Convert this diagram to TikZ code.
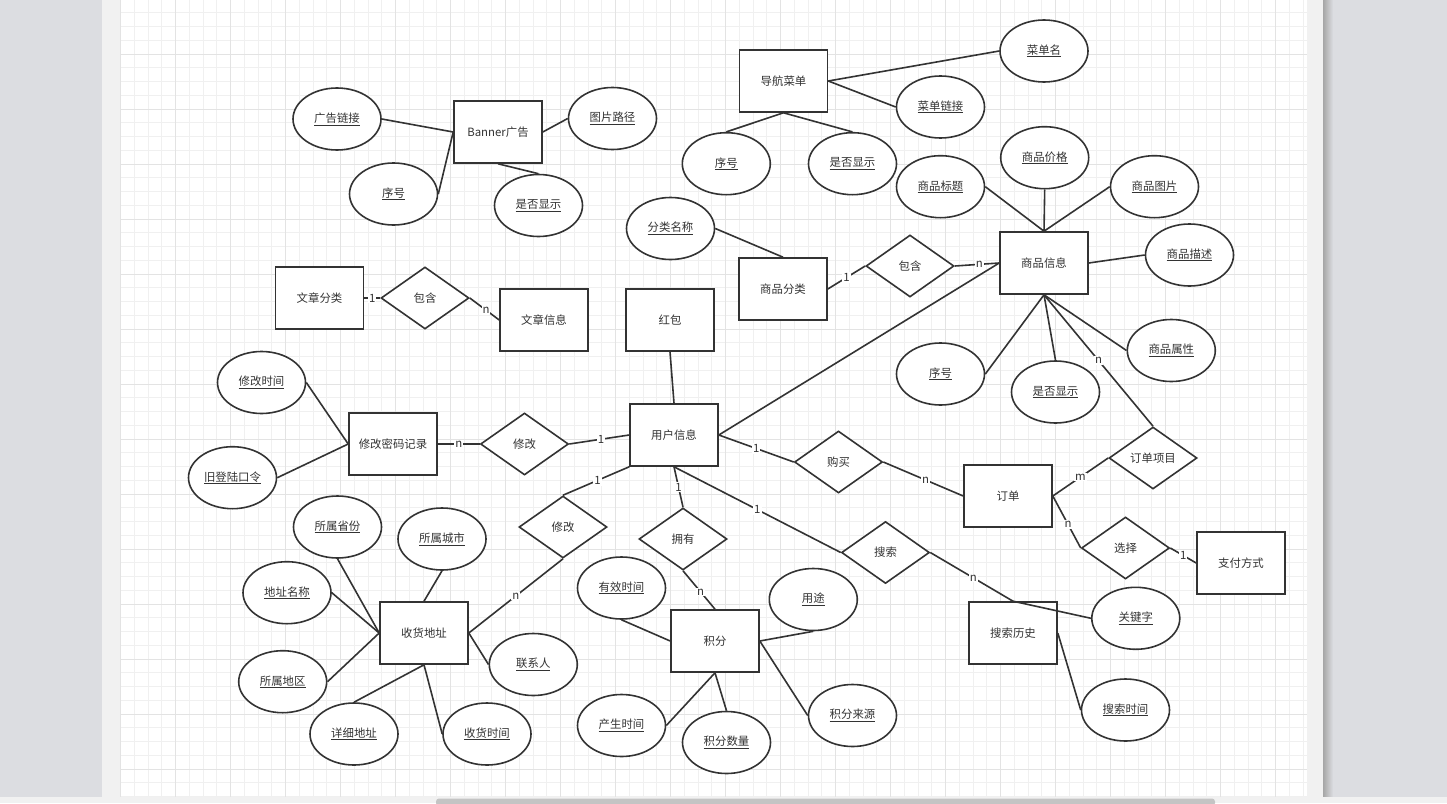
\documentclass[tikz,border=0pt]{standalone}
\usepackage{fontspec}
\newfontfamily\cjk{Noto Sans CJK SC}
\usetikzlibrary{shapes.geometric}
\definecolor{ink}{HTML}{333333}
\definecolor{outbg}{HTML}{DCDDE1}
\definecolor{pagebg}{HTML}{F1F1F1}
\definecolor{gminor}{HTML}{F0F0F0}
\definecolor{gmajor}{HTML}{E3E3E3}
\definecolor{scroll}{HTML}{C4C4C4}
\begin{document}
\begin{tikzpicture}[x=1pt,y=-1pt,
  every node/.style={font=\cjk\fontsize{11.4}{13}\selectfont, text=ink},
  ent/.style={draw=ink, line width=1.6pt, fill=white, rectangle, minimum width=88pt, minimum height=62pt, inner sep=0pt},
  attr/.style={draw=ink, line width=1.6pt, fill=white, ellipse, minimum width=88pt, minimum height=62pt, inner sep=0pt},
  rel/.style={draw=ink, line width=1.6pt, fill=white, diamond, aspect=1.42, minimum width=88pt, minimum height=62pt, inner sep=0pt},
  conn/.style={draw=ink, line width=1.6pt},
  card/.style={fill=white, inner sep=1pt, text=ink}
]
% ---------- background ----------
\useasboundingbox (0,0) rectangle (1447,803);
\fill[outbg] (0,0) rectangle (1447,803);
\fill[pagebg] (102,0) rectangle (1323,803);
\shade[left color=black!35, right color=outbg] (1323,0) rectangle (1333,797);
\fill[white] (120,0) rectangle (1307,797);
\foreach \i in {0,...,86} {
  \pgfmathsetmacro\xx{120.5+13.75*\i}
  \draw[gminor, line width=1pt] (\xx,0) -- (\xx,797);
}
\foreach \j in {0,...,58} {
  \pgfmathsetmacro\yy{-1+13.75*\j}
  \draw[gminor, line width=1pt] (120,\yy) -- (1307,\yy);
}
\foreach \i in {0,...,21} {
  \pgfmathsetmacro\xx{120.5+55*\i}
  \draw[gmajor, line width=1pt] (\xx,0) -- (\xx,797);
}
\foreach \j in {0,...,14} {
  \pgfmathsetmacro\yy{-1+55*\j}
  \draw[gmajor, line width=1pt] (120,\yy) -- (1307,\yy);
}
\fill[pagebg] (0,797) rectangle (1447,803);
\fill[scroll, rounded corners=3pt] (436,798.5) rectangle (1215,806);
% ---------- entities ----------
\node[ent] (banner) at (498,132) {Banner广告};
\node[ent] (nav) at (783.5,81) {导航菜单};
\node[ent] (goods) at (1044,263) {商品信息};
\node[ent] (gcat) at (783,289) {商品分类};
\node[ent] (acat) at (319.5,298) {文章分类};
\node[ent] (art) at (544,320) {文章信息};
\node[ent] (hb) at (670,320) {红包};
\node[ent] (pwd) at (393,444) {修改密码记录};
\node[ent] (user) at (674,435) {用户信息};
\node[ent] (order) at (1008,496) {订单};
\node[ent] (pay) at (1241,563) {支付方式};
\node[ent] (addr) at (424,633) {收货地址};
\node[ent] (pts) at (715,641) {积分};
\node[ent] (shist) at (1013,633) {搜索历史};
% ---------- relationships ----------
\node[rel] (incg) at (910,266) {包含};
\node[rel] (inca) at (425,298) {包含};
\node[rel] (modu) at (524.5,444) {修改};
\node[rel] (modl) at (563,527) {修改};
\node[rel] (buy) at (838.5,462) {购买};
\node[rel] (own) at (683,539) {拥有};
\node[rel] (srch) at (885.5,552.5) {搜索};
\node[rel] (oitem) at (1153,458) {订单项目};
\node[rel] (sel) at (1125.5,548) {选择};
% ---------- attributes ----------
\node[attr] (adlink) at (337,119) {\underline{广告链接}};
\node[attr] (bno) at (393.5,194) {\underline{序号}};
\node[attr] (bimg) at (612.5,118.5) {\underline{图片路径}};
\node[attr] (bshow) at (538.5,205.5) {\underline{是否显示}};
\node[attr] (nno) at (726.3,163.7) {\underline{序号}};
\node[attr] (nshow) at (852.5,163.7) {\underline{是否显示}};
\node[attr] (mname) at (1044,51) {\underline{菜单名}};
\node[attr] (mlink) at (940.5,107) {\underline{菜单链接}};
\node[attr] (cname) at (670.5,228.5) {\underline{分类名称}};
\node[attr] (gtitle) at (940.5,186.7) {\underline{商品标题}};
\node[attr] (gprice) at (1044.7,157.7) {\underline{商品价格}};
\node[attr] (gimg) at (1154.5,186.7) {\underline{商品图片}};
\node[attr] (gdesc) at (1189.5,255) {\underline{商品描述}};
\node[attr] (gattr) at (1171.3,350.5) {\underline{商品属性}};
\node[attr] (gno) at (940.5,374) {\underline{序号}};
\node[attr] (gshow) at (1055.5,392) {\underline{是否显示}};
\node[attr] (mtime) at (261.5,382.5) {\underline{修改时间}};
\node[attr] (oldpw) at (232.5,477.7) {\underline{旧登陆口令}};
\node[attr] (prov) at (337.5,527) {\underline{所属省份}};
\node[attr] (city) at (442,539) {\underline{所属城市}};
\node[attr] (aname) at (287,592.7) {\underline{地址名称}};
\node[attr] (dist) at (282.7,681.7) {\underline{所属地区}};
\node[attr] (detail) at (354,734) {\underline{详细地址}};
\node[attr] (rtime) at (487,734) {\underline{收货时间}};
\node[attr] (contact) at (533.3,664.5) {\underline{联系人}};
\node[attr] (valid) at (621.5,588) {\underline{有效时间}};
\node[attr] (use) at (813.3,599.5) {\underline{用途}};
\node[attr] (ctime) at (621.5,725.5) {\underline{产生时间}};
\node[attr] (pnum) at (726.5,742.5) {\underline{积分数量}};
\node[attr] (psrc) at (852.5,715.5) {\underline{积分来源}};
\node[attr] (kw) at (1135.8,618.3) {\underline{关键字}};
\node[attr] (stime) at (1125.5,710) {\underline{搜索时间}};
% ---------- connectors ----------
\draw[conn] (adlink.east) -- (banner.west);
\draw[conn] (bno.east) -- (banner.west);
\draw[conn] (banner.east) -- (bimg.west);
\draw[conn] (banner.south) -- (bshow.north);
\draw[conn] (nav.east) -- (mname.west);
\draw[conn] (nav.east) -- (mlink.west);
\draw[conn] (nav.south) -- (nno.north);
\draw[conn] (nav.south) -- (nshow.north);
\draw[conn] (cname.east) -- (gcat.north);
\draw[conn] (gcat.east) -- node[card, pos=0.5] {1} (incg.west);
\draw[conn] (incg.east) -- node[card, pos=0.55] {n} (goods.west);
\draw[conn] (gtitle.east) -- (goods.north);
\draw[conn] (gprice.south) -- (goods.north);
\draw[conn] (gimg.west) -- (goods.north);
\draw[conn] (goods.east) -- (gdesc.west);
\draw[conn] (goods.south) -- (gno.east);
\draw[conn] (goods.south) -- (gshow.north);
\draw[conn] (goods.south) -- (gattr.west);
\draw[conn] (goods.south) -- node[card, pos=0.5] {n} (oitem.north);
\draw[conn] (user.east) -- (goods.west);
\draw[conn] (acat.east) -- node[card, pos=0.5] {1} (inca.west);
\draw[conn] (inca.east) -- node[card, pos=0.55] {n} (art.west);
\draw[conn] (hb.south) -- (user.north);
\draw[conn] (mtime.east) -- (pwd.west);
\draw[conn] (oldpw.east) -- (pwd.west);
\draw[conn] (pwd.east) -- node[card, pos=0.5] {n} (modu.west);
\draw[conn] (modu.east) -- node[card, pos=0.53] {1} (user.west);
\draw[conn] (modl.north) -- node[card, pos=0.52] {1} (user.south west);
\draw[conn] (modl.south) -- node[card, pos=0.5] {n} (addr.east);
\draw[conn] (user.south) -- node[card, pos=0.5] {1} (own.north);
\draw[conn] (own.south) -- node[card, pos=0.55] {n} (pts.north);
\draw[conn] (user.east) -- node[card, pos=0.5] {1} (buy.west);
\draw[conn] (buy.east) -- node[card, pos=0.53] {n} (order.west);
\draw[conn] (user.south) -- node[card, pos=0.5] {1} (srch.west);
\draw[conn] (srch.east) -- node[card, pos=0.52] {n} (shist.north);
\draw[conn] (shist.north) -- (kw.west);
\draw[conn] (shist.east) -- (stime.west);
\draw[conn] (order.east) -- node[card, pos=0.5] {m} (oitem.west);
\draw[conn] (order.east) -- node[card, pos=0.55] {n} (sel.west);
\draw[conn] (sel.east) -- node[card, pos=0.5] {1} (pay.west);
\draw[conn] (prov.south) -- (addr.west);
\draw[conn] (aname.east) -- (addr.west);
\draw[conn] (dist.east) -- (addr.west);
\draw[conn] (city.south) -- (addr.north);
\draw[conn] (detail.north) -- (addr.south);
\draw[conn] (rtime.west) -- (addr.south);
\draw[conn] (contact.west) -- (addr.east);
\draw[conn] (valid.south) -- (pts.west);
\draw[conn] (use.south) -- (pts.east);
\draw[conn] (ctime.east) -- (pts.south);
\draw[conn] (pnum.north) -- (pts.south);
\draw[conn] (psrc.west) -- (pts.east);
\end{tikzpicture}
\end{document}
